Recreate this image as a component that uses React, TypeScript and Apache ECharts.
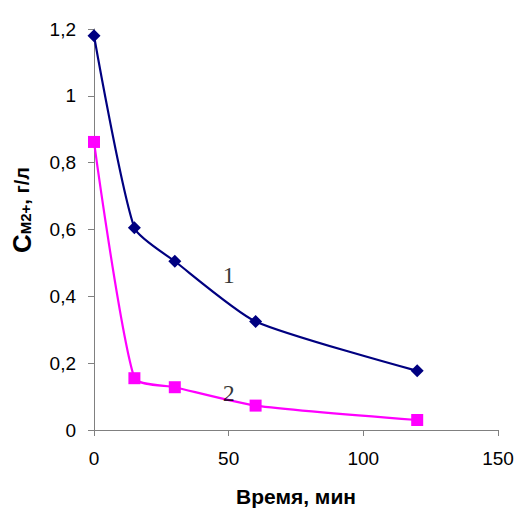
import React, { useEffect, useRef } from "react";
import * as echarts from "echarts";

const timeMin = [0, 15, 30, 60, 120];
const series1 = [1.18, 0.605, 0.505, 0.325, 0.177];
const series2 = [0.862, 0.155, 0.128, 0.073, 0.03];
const curveLabels = [
  { name: "1", x: 50, y: 0.465 },
  { name: "2", x: 50, y: 0.11 },
];
const xTicks = { min: 0, max: 150, interval: 50 };
const yTicks = { min: 0, max: 1.2, interval: 0.2 };

export default function App() {
  const ref = useRef<HTMLDivElement>(null);
  useEffect(() => {
    const chart = echarts.init(ref.current!, undefined, { renderer: "svg" });
    const axisColor = "#808080";
    const font = "Liberation Sans, Arial, sans-serif";
    const labelStyle = { color: "#000", fontFamily: font, fontSize: 19 };
    chart.setOption({
      animation: false,
      backgroundColor: "#fff",
      grid: { left: 94, right: 20, top: 29, bottom: 80, outerBoundsMode: "none", containLabel: false },
      xAxis: {
        type: "value",
        min: xTicks.min,
        max: xTicks.max,
        interval: xTicks.interval,
        axisLine: { show: true, onZero: false, lineStyle: { color: axisColor, width: 1 } },
        axisTick: { show: true, length: 6, lineStyle: { color: axisColor } },
        splitLine: { show: false },
        axisLabel: { ...labelStyle, margin: 19 },
        name: "Время, мин",
        nameLocation: "middle",
        nameGap: 56,
        nameTextStyle: { color: "#000", fontFamily: font, fontSize: 21, fontWeight: "bold" },
      },
      yAxis: {
        type: "value",
        min: yTicks.min,
        max: yTicks.max,
        interval: yTicks.interval,
        axisLine: { show: true, lineStyle: { color: axisColor, width: 1 } },
        axisTick: { show: true, length: 6, lineStyle: { color: axisColor } },
        splitLine: { show: false },
        axisLabel: {
          ...labelStyle,
          margin: 18,
          formatter: (v: number) => String(Math.round(v * 10) / 10).replace(".", ","),
        },
      },
      graphic: [
        {
          type: "text",
          x: 22,
          y: 210,
          rotation: Math.PI / 2,
          style: {
            text: "{c|C}{s|M2+}{n|, г/л}",
            align: "center",
            verticalAlign: "middle",
            fill: "#000",
            rich: {
              c: { fontSize: 26, fontWeight: "bold", fontFamily: font, fill: "#000" },
              s: { fontSize: 15, fontWeight: "bold", fontFamily: font, fill: "#000", padding: [7, 0, 0, 0] },
              n: { fontSize: 20, fontWeight: "bold", fontFamily: font, fill: "#000" },
            },
          },
        },
      ],
      series: [
        {
          type: "line",
          data: timeMin.map((t, i) => [t, series1[i]]),
          smooth: 0.2,
          symbol: "diamond",
          symbolSize: 13,
          itemStyle: { color: "#000080" },
          lineStyle: { color: "#000080", width: 2.2 },
          z: 3,
        },
        {
          type: "line",
          data: timeMin.map((t, i) => [t, series2[i]]),
          smooth: 0.2,
          symbol: "rect",
          symbolSize: 12,
          itemStyle: { color: "#FF00FF" },
          lineStyle: { color: "#FF00FF", width: 2.2 },
          z: 2,
        },
        {
          type: "scatter",
          data: curveLabels.map((l) => ({ name: l.name, value: [l.x, l.y] })),
          symbolSize: 0,
          label: {
            show: true,
            position: "inside",
            formatter: (p: any) => p.name,
            color: "#000",
            fontFamily: "Liberation Serif, Times New Roman, serif",
            fontSize: 24,
          },
          z: 4,
        },
      ],
    });
    return () => chart.dispose();
  }, []);
  return <div ref={ref} style={{ width: 518, height: 510, position: "absolute", left: 0, top: 0 }} />;
}
